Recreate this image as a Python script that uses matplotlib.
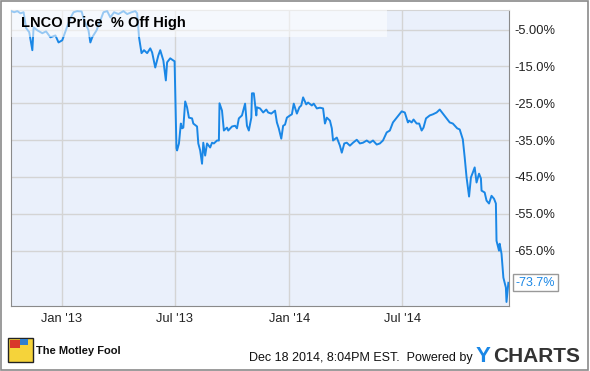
import numpy as np
import matplotlib
matplotlib.use("Agg")
import matplotlib.pyplot as plt
import matplotlib.dates as mdates
from matplotlib.patches import Rectangle

# Datos: dias desde el 1 de enero de 2013 y % por debajo del maximo.
dias = [-81, -76, -71, -66, -61, -57, -52, -47, -45, -39, -31, -25, -18, -10, -5,
        1, 8, 14, 19, 25, 32, 36, 43, 46, 49, 56, 62, 67, 73, 78, 84, 91, 99, 105,
        112, 118, 121, 124, 128, 132, 137, 142, 145, 150, 155, 158, 163, 167, 169,
        174, 179, 181, 184, 185, 188, 191, 193, 195, 198, 201, 204, 209, 211, 217,
        219, 222, 225, 227, 230, 233, 238, 241, 244, 249, 252, 253, 257, 260, 265,
        267, 273, 278, 281, 284, 289, 291, 294, 297, 300, 304, 305, 308, 312, 313,
        318, 323, 328, 331, 336, 342, 345, 348, 352, 355, 358, 361, 366, 369, 372,
        377, 381, 384, 387, 392, 395, 401, 404, 409, 414, 419, 422, 425, 430, 433,
        435, 441, 446, 449, 453, 457, 462, 467, 473, 478, 483, 489, 494, 499, 505,
        510, 515, 521, 526, 531, 537, 542, 545, 550, 555, 557, 561, 564, 569, 573,
        577, 580, 584, 590, 595, 601, 606, 611, 617, 622, 627, 634, 638, 643, 646,
        649, 653, 656, 659, 662, 665, 669, 672, 673, 678, 681, 685, 689, 693, 696,
        697, 701, 702, 705, 708, 712, 713, 716]
pct_off_high = [0.0, -0.3, 0.0, -0.6, -0.3, -4.6, -5.7, -10.6, -4.4, -5.2, -6.0, -5.5,
                -7.1, -6.6, -8.5, -7.9, -4.6, -1.9, -0.3, 0.0, -0.1, -2.5, -5.2, -8.5,
                -7.1, -5.2, -2.5, -0.3, 0.0, -1.7, -0.3, -0.8, 0.0, -0.8, -0.3, 0.0,
                -0.6, -7.1, -11.4, -10.6, -11.4, -10.1, -11.2, -15.3, -12.0, -10.6,
                -13.4, -18.8, -13.9, -12.8, -13.4, -13.6, -37.2, -37.8, -35.9, -30.5,
                -31.8, -31.6, -24.5, -26.1, -28.9, -29.1, -30.5, -31.3, -35.9, -37.8,
                -41.4, -35.7, -39.2, -35.9, -37.0, -35.7, -35.9, -35.1, -35.1, -25.0,
                -27.0, -32.4, -31.6, -32.4, -31.3, -31.1, -31.8, -29.1, -28.3, -27.0,
                -25.1, -31.1, -32.4, -28.9, -22.3, -22.3, -28.3, -26.1, -26.4, -27.5,
                -26.7, -27.5, -27.8, -27.0, -30.2, -31.8, -34.6, -31.1, -30.8, -28.9,
                -28.3, -28.0, -25.1, -27.8, -26.1, -25.6, -23.4, -25.3, -24.8, -25.6,
                -25.1, -26.4, -26.2, -26.4, -30.5, -28.9, -29.7, -31.8, -35.1, -34.3,
                -36.5, -38.4, -35.9, -35.7, -36.5, -35.7, -34.9, -35.9, -35.7, -35.1,
                -35.7, -35.1, -36.2, -35.9, -35.1, -32.9, -32.4, -30.2, -28.9, -27.8,
                -27.2, -27.5, -30.2, -29.7, -30.2, -29.4, -30.5, -30.5, -32.4, -31.6,
                -29.1, -28.3, -28.0, -27.5, -26.7, -27.8, -29.1, -30.2, -30.5, -31.8,
                -32.1, -34.8, -39.7, -45.1, -50.3, -45.1, -43.8, -42.4, -46.5, -44.1,
                -45.4, -48.7, -49.2, -51.4, -52.2, -50.1, -50.9, -52.2, -62.3, -65.0,
                -63.1, -65.8, -72.3, -75.0, -78.9, -73.7]

etiquetas_y = [-5, -15, -25, -35, -45, -55, -65]
etiquetas_x = ["2013-01-01", "2013-07-01", "2014-01-01", "2014-07-01"]

fechas = np.datetime64("2013-01-01") + np.array(dias).astype("timedelta64[D]")

plt.rcParams["font.family"] = ["Liberation Sans", "DejaVu Sans"]

fig = plt.figure(figsize=(5.9, 3.71), dpi=100)
ax = fig.add_axes([0.0178, 0.1752, 0.8449, 0.7978])
ax.set_facecolor("#eaf0fb")

ax.plot(fechas, pct_off_high, color="#1a87e6", linewidth=1.4, zorder=3)

ax.set_ylim(-80, 0.3)
ax.set_xlim(np.datetime64("2012-10-11"), np.datetime64("2014-12-19"))

ax.set_yticks(etiquetas_y)
ax.set_yticklabels(["-5.00%"] + ["%.1f%%" % v for v in etiquetas_y[1:]])
ax.yaxis.tick_right()
ax.set_xticks([np.datetime64(d) for d in etiquetas_x])
ax.xaxis.set_major_formatter(mdates.DateFormatter("%b '%y"))
ax.tick_params(axis="both", length=0, labelsize=9.3, colors="#222222")
ax.tick_params(axis="y", pad=4)
ax.tick_params(axis="x", pad=5)
ax.grid(True, color="#d4d4d4", linewidth=1)
ax.set_axisbelow(True)
for lado in ["left", "right", "bottom", "top"]:
    ax.spines[lado].set_color("#8a8a8a")
ax.spines["top"].set_color("#d4d4d4")

# Recuadro de la leyenda
ax.add_patch(Rectangle((0, 0.91), 0.755, 0.09, transform=ax.transAxes,
                       facecolor="white", alpha=0.55, edgecolor="none", zorder=4))
ax.text(0.022, 0.955, "LNCO Price  % Off High", transform=ax.transAxes,
        fontsize=10.5, fontweight="bold", va="center", ha="left", zorder=5)

# Etiqueta del ultimo valor
ax.annotate("%.1f%%" % pct_off_high[-1], xy=(1.0, pct_off_high[-1]),
            xycoords=("axes fraction", "data"), xytext=(5, 0),
            textcoords="offset points", va="center", ha="left",
            fontsize=9, color="#1a87e6",
            bbox=dict(boxstyle="square,pad=0.2", facecolor="white", edgecolor="#999999"),
            annotation_clip=False)

# Borde exterior
fig.patches.append(Rectangle((0.002, 0.003), 0.995, 0.994, transform=fig.transFigure,
                             facecolor="none", edgecolor="#8a8a8a", linewidth=1.2))

# Logo de The Motley Fool (aproximado)
fig.patches.append(Rectangle((8 / 590, 1 - 362 / 371), 25 / 590, 24 / 371,
                             transform=fig.transFigure, facecolor="#f5d33a",
                             edgecolor="#222222", linewidth=1))
fig.patches.append(Rectangle((10 / 590, 1 - 348 / 371), 10 / 590, 8 / 371,
                             transform=fig.transFigure, facecolor="#d9372b",
                             edgecolor="none"))
fig.patches.append(Rectangle((20 / 590, 1 - 345 / 371), 8 / 590, 6 / 371,
                             transform=fig.transFigure, facecolor="#2f7fd0",
                             edgecolor="none"))
fig.text(36 / 590, 1 - 351 / 371, "The Motley Fool", fontsize=8, fontweight="bold",
         va="center", ha="left", color="#111111")

fig.text(473 / 590, 1 - 358 / 371, "Dec 18 2014, 8:04PM EST.  Powered by",
         fontsize=9, va="center", ha="right", color="#111111")
fig.text(476 / 590, 1 - 357 / 371, "Y", fontsize=16, fontweight="bold",
         va="center", ha="left", color="#1a87e6")
fig.text(493 / 590, 1 - 357 / 371, "CHARTS", fontsize=15, fontweight="bold",
         va="center", ha="left", color="#333333")

fig.savefig("out.png", dpi=100)
